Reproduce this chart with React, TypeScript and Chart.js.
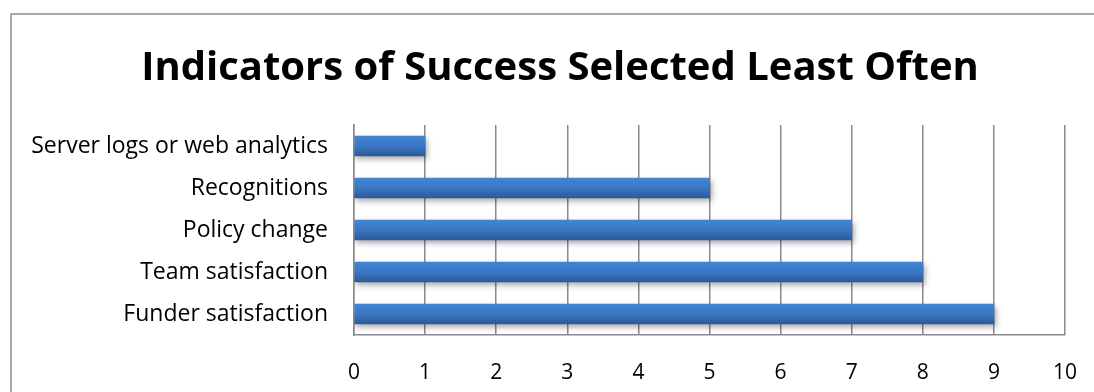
import React, { useEffect, useRef } from "react";
import { Chart, registerables } from "chart.js";

Chart.register(...registerables);

const TITLE = "Indicators of Success Selected Least Often";
const categories = [
  "Server logs or web analytics",
  "Recognitions",
  "Policy change",
  "Team satisfaction",
  "Funder satisfaction",
];
const counts = [1, 5, 7, 8, 9];
const xTicks = [0, 1, 2, 3, 4, 5, 6, 7, 8, 9, 10];

const FONT = "'Open Sans', 'Noto Sans', sans-serif";

const framePlugin = {
  id: "frame",
  beforeDraw(chart: any) {
    const ctx = chart.ctx;
    ctx.save();
    ctx.fillStyle = "#ffffff";
    ctx.fillRect(0, 0, chart.width, chart.height);
    ctx.strokeStyle = "#8c8c8c";
    ctx.lineWidth = 1.5;
    ctx.beginPath();
    ctx.moveTo(11, chart.height + 2);
    ctx.lineTo(11, 14);
    ctx.lineTo(chart.width + 2, 14);
    ctx.stroke();
    ctx.restore();
  },
};

const titleShiftPlugin = {
  id: "titleShift",
  afterLayout(chart: any) {
    const tb = chart.titleBlock;
    if (tb) {
      tb.left = 55;
      tb.right = 1065;
    }
  },
};

const shadowPlugin = {
  id: "barShadow",
  beforeDatasetsDraw(chart: any) {
    const ctx = chart.ctx;
    ctx.save();
    ctx.shadowColor = "rgba(0,0,0,0.35)";
    ctx.shadowBlur = 6;
    ctx.shadowOffsetX = 2;
    ctx.shadowOffsetY = 3;
  },
  afterDatasetsDraw(chart: any) {
    chart.ctx.restore();
  },
};

export default function App() {
  const ref = useRef<HTMLCanvasElement>(null);
  useEffect(() => {
    if (!ref.current) return;
    const chart = new Chart(ref.current, {
      type: "bar",
      data: {
        labels: categories,
        datasets: [
          {
            data: counts,
            barThickness: 20,
            borderWidth: 0,
            backgroundColor: (c: any) => {
              const ch = c.chart;
              const y = ch.scales?.y;
              if (!y || c.dataIndex === undefined) return "#3a76c3";
              const cy = y.getPixelForValue(c.dataIndex);
              if (!isFinite(cy)) return "#3a76c3";
              const g = ch.ctx.createLinearGradient(0, cy - 10, 0, cy + 10);
              g.addColorStop(0, "#4185d4");
              g.addColorStop(0.5, "#3a77c4");
              g.addColorStop(1, "#2b5a97");
              return g;
            },
          },
        ],
      },
      options: {
        indexAxis: "y",
        animation: false,
        responsive: true,
        maintainAspectRatio: false,
        layout: { padding: { left: 12, right: 29, top: 20, bottom: 0 } },
        plugins: {
          legend: { display: false },
          tooltip: { enabled: false },
          title: {
            display: true,
            text: TITLE,
            color: "#000000",
            font: { family: FONT, size: 40, weight: "bold", lineHeight: 1.2 },
            padding: { top: 25, bottom: 32 },
          },
        },
        scales: {
          x: {
            min: 0,
            max: 10,
            afterBuildTicks: (s: any) => {
              s.ticks = xTicks.map((v) => ({ value: v }));
            },
            afterFit: (s: any) => {
              s.height = 392 - 335;
              s.paddingLeft = 0;
              s.paddingRight = 0;
            },
            grid: { color: "#8a8a8a", lineWidth: 1.5, drawTicks: false, tickLength: 0 },
            border: { display: true, color: "#8a8a8a", width: 1.5 },
            ticks: {
              color: "#000000",
              padding: 25,
              font: { family: FONT, size: 21, lineHeight: 1.2 },
            },
          },
          y: {
            grid: { display: false, drawTicks: false },
            border: { display: true, color: "#8a8a8a", width: 1.5 },
            afterFit: (s: any) => {
              s.width = 354 - 12;
            },
            ticks: {
              color: "#000000",
              padding: 26,
              font: { family: FONT, size: 23 },
            },
          },
        },
      },
      plugins: [framePlugin, titleShiftPlugin, shadowPlugin],
    });
    return () => chart.destroy();
  }, []);
  return (
    <div style={{ position: "fixed", left: 0, top: 0, width: 1094, height: 392, background: "#fff" }}>
      <canvas ref={ref} />
    </div>
  );
}
